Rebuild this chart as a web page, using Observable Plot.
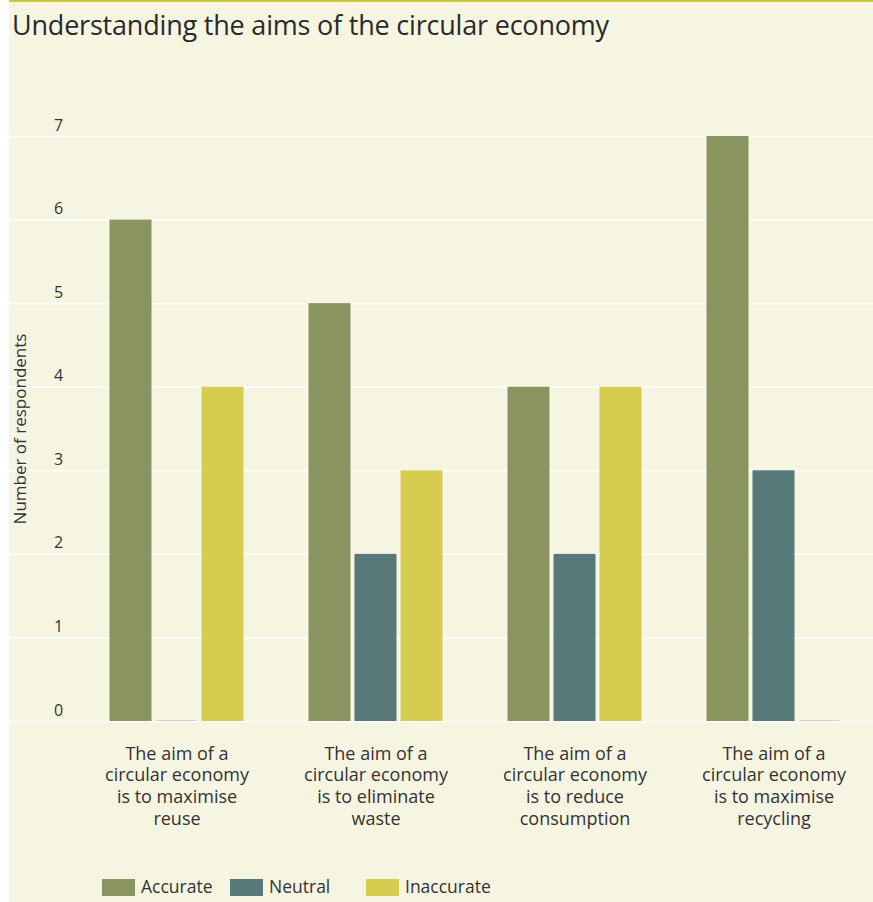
<!DOCTYPE html>
<html>
<head>
<meta charset="utf-8">
<script src="https://cdn.jsdelivr.net/npm/d3@7"></script>
<script src="https://cdn.jsdelivr.net/npm/@observablehq/plot@0.6"></script>
<style>
  html, body { margin: 0; padding: 0; background: #ffffff; }
  #panel {
    position: absolute; left: 9px; top: 0; width: 864px; height: 902px;
    background: #f6f5e1; border-top: 2px solid #cbc63b; box-sizing: border-box;
    font-family: "Open Sans", "Noto Sans", sans-serif; color: #2e2e2e;
  }
  #title {
    position: absolute; left: 3px; top: 4px; font-size: 27px; font-weight: 400;
    letter-spacing: -0.2px; color: #2a2a2a; white-space: nowrap;
  }
  #chart { position: absolute; left: 0; top: 58px; }
  .item { position: absolute; top: 872px; display: flex; align-items: center; font-size: 17.5px; color: #333; }
  .sw { width: 33px; height: 17px; margin-right: 6px; margin-top: 2px; }
</style>
</head>
<body>
<div id="panel">
  <div id="title">Understanding the aims of the circular economy</div>
  <div id="chart"></div>
</div>
<script>
const categories = [
  "The aim of a\ncircular economy\nis to maximise\nreuse",
  "The aim of a\ncircular economy\nis to eliminate\nwaste",
  "The aim of a\ncircular economy\nis to reduce\nconsumption",
  "The aim of a\ncircular economy\nis to maximise\nrecycling"
];
const responses = ["Accurate", "Neutral", "Inaccurate"];
const colors = ["#8a9460", "#57797a", "#d6cd50"];
const accurate = [6, 5, 4, 7];
const neutral = [0, 2, 2, 3];
const inaccurate = [4, 3, 4, 0];
const yTicks = [0, 1, 2, 3, 4, 5, 6, 7];
const yLabel = "Number of respondents";

const seriesValues = [accurate, neutral, inaccurate];
const data = [];
categories.forEach((c, i) => {
  responses.forEach((r, j) => data.push({category: c, response: r, value: seriesValues[j][i]}));
});

const offsets = [-46, 0, 46];
const barW = 42;
const step = 199;
const inset = (step - barW) / 2;

const marks = [
  Plot.ruleY(yTicks, {stroke: "#ffffff", strokeWidth: 1.5})
];
responses.forEach((r, j) => {
  const sub = data.filter(d => d.response === r);
  marks.push(Plot.barY(sub.filter(d => d.value > 0), {
    x: "category", y: "value", fill: colors[j],
    insetLeft: inset, insetRight: inset, dx: offsets[j]
  }));
  marks.push(Plot.tickY(sub.filter(d => d.value === 0), {
    x: "category", y: "value", stroke: "#d2d2c8", strokeWidth: 1,
    insetLeft: inset + 1, insetRight: inset + 1, dx: offsets[j], dy: -1
  }));
});
marks.push(Plot.text(yTicks, {
  y: d => d, text: d => String(d), frameAnchor: "left", dx: 49, dy: -11,
  textAnchor: "middle", fontSize: 16, fill: "#333"
}));
marks.push(Plot.text([yLabel], {
  text: d => d, frameAnchor: "left", dx: 11, rotate: -90, textAnchor: "middle",
  fontSize: 17, fill: "#333"
}));
marks.push(Plot.text(categories, {
  x: d => d, text: d => d, frameAnchor: "bottom", dy: 23, lineAnchor: "top",
  lineHeight: 1.2, fontSize: 18, fill: "#333"
}));

const chart = Plot.plot({
  width: 864,
  height: 800,
  marginLeft: 0,
  marginRight: 0,
  marginTop: 76,
  marginBottom: 139,
  style: {background: "transparent", fontFamily: "'Open Sans', 'Noto Sans', sans-serif"},
  x: {domain: categories, axis: null, paddingInner: 0, paddingOuter: 68 / (2 * 199), align: 0.993},
  y: {domain: [0, 7], axis: null},
  marks
});
document.getElementById("chart").appendChild(chart);

const panel = document.getElementById("panel");
const lefts = [93, 221, 357];
responses.forEach((r, j) => {
  const item = document.createElement("div");
  item.className = "item";
  item.style.left = lefts[j] + "px";
  const sw = document.createElement("div");
  sw.className = "sw";
  sw.style.background = colors[j];
  const t = document.createElement("span");
  t.textContent = r;
  item.appendChild(sw);
  item.appendChild(t);
  panel.appendChild(item);
});
</script>
</body>
</html>
